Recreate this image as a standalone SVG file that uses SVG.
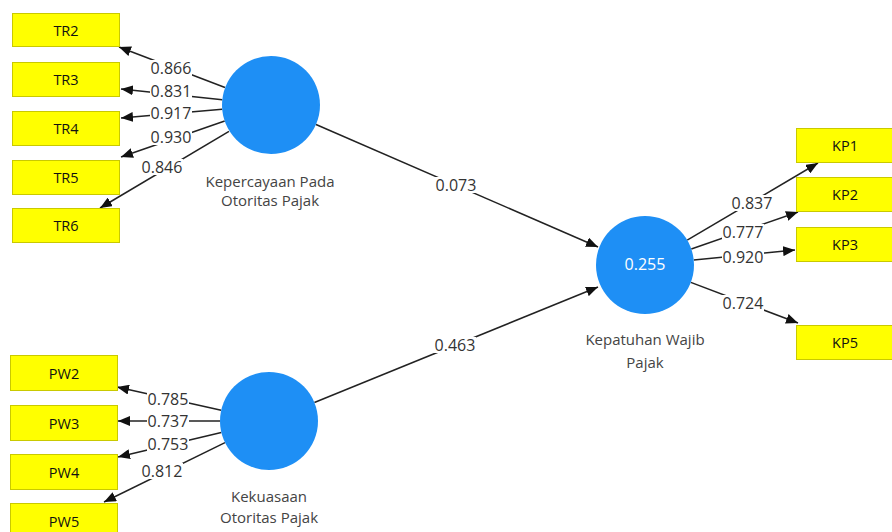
<svg xmlns="http://www.w3.org/2000/svg" width="892" height="532" viewBox="0 0 892 532">
<defs>
<marker id="ah" markerUnits="userSpaceOnUse" markerWidth="12" markerHeight="10" viewBox="0 0 12 10" refX="12" refY="5" orient="auto">
<path d="M0,0 L12,5 L0,10 Z" fill="#111"/>
</marker>
<rect id="bg" x="-21" y="-8" width="42" height="16" fill="#fff"/>
</defs>
<style>
.box{fill:#ffff00;stroke:#c9c900;stroke-width:1}
.bt{font-family:"Open Sans","Noto Sans",sans-serif;font-size:14.5px;fill:#111;text-anchor:middle;dominant-baseline:central}
.lv{fill:#1e8ff5}
.lt{font-family:"Open Sans","Noto Sans",sans-serif;font-size:15px;fill:#444;text-anchor:middle}
.ln{stroke:#222;stroke-width:1.5;fill:none;marker-end:url(#ah)}
.w{font-family:"Open Sans","Noto Sans",sans-serif;font-size:16px;fill:#333;text-anchor:middle;dominant-baseline:central}
.r2{font-family:"Open Sans","Noto Sans",sans-serif;font-size:16px;fill:#fff;text-anchor:middle;dominant-baseline:central}
</style>
<rect width="892" height="532" fill="#fff"/>
<g id="connectors">
<line class="ln" x1="225" y1="87.5" x2="119" y2="47"/>
<line class="ln" x1="222.3" y1="99.8" x2="121" y2="89"/>
<line class="ln" x1="222.2" y1="109.2" x2="121" y2="118"/>
<line class="ln" x1="224.7" y1="121" x2="121" y2="157"/>
<line class="ln" x1="229" y1="131.3" x2="100" y2="208"/>
<line class="ln" x1="221.2" y1="410.3" x2="117" y2="387"/>
<line class="ln" x1="220" y1="421" x2="118" y2="421"/>
<line class="ln" x1="221.3" y1="432.4" x2="118" y2="457"/>
<line class="ln" x1="225" y1="442.6" x2="104" y2="502"/>
<line class="ln" x1="687.2" y1="240.1" x2="818" y2="163"/>
<line class="ln" x1="691.3" y1="249" x2="798" y2="212"/>
<line class="ln" x1="693.8" y1="260.1" x2="795" y2="250"/>
<line class="ln" x1="690.8" y1="282.4" x2="798" y2="323"/>
<line class="ln" x1="316" y1="124.5" x2="598" y2="247"/>
<line class="ln" x1="314.4" y1="402.5" x2="598" y2="287"/>
<use href="#bg" x="171" y="68"/><text class="w" x="171" y="68">0.866</text>
<use href="#bg" x="171" y="91"/><text class="w" x="171" y="91">0.831</text>
<use href="#bg" x="171" y="113"/><text class="w" x="171" y="113">0.917</text>
<use href="#bg" x="171" y="137"/><text class="w" x="171" y="137">0.930</text>
<use href="#bg" x="162" y="167"/><text class="w" x="162" y="167">0.846</text>
<use href="#bg" x="168" y="399"/><text class="w" x="168" y="399">0.785</text>
<use href="#bg" x="168" y="421"/><text class="w" x="168" y="421">0.737</text>
<use href="#bg" x="168" y="444"/><text class="w" x="168" y="444">0.753</text>
<use href="#bg" x="162" y="471"/><text class="w" x="162" y="471">0.812</text>
<use href="#bg" x="752" y="203"/><text class="w" x="752" y="203">0.837</text>
<use href="#bg" x="743" y="232"/><text class="w" x="743" y="232">0.777</text>
<use href="#bg" x="743" y="257"/><text class="w" x="743" y="257">0.920</text>
<use href="#bg" x="743" y="303"/><text class="w" x="743" y="303">0.724</text>
<use href="#bg" x="456" y="185"/><text class="w" x="456" y="185">0.073</text>
<use href="#bg" x="455" y="345"/><text class="w" x="455" y="345">0.463</text>
</g>
<g id="TR2"><rect class="box" x="12.5" y="13.5" width="107" height="33"/><text class="bt" x="66" y="30">TR2</text></g>
<g id="TR3"><rect class="box" x="12.5" y="62.5" width="107" height="34"/><text class="bt" x="66" y="79.5">TR3</text></g>
<g id="TR4"><rect class="box" x="12.5" y="111.5" width="107" height="34"/><text class="bt" x="66" y="128.5">TR4</text></g>
<g id="TR5"><rect class="box" x="12.5" y="160.5" width="107" height="34"/><text class="bt" x="66" y="177.5">TR5</text></g>
<g id="TR6"><rect class="box" x="12.5" y="208.5" width="107" height="34"/><text class="bt" x="66" y="225.5">TR6</text></g>
<g id="PW2"><rect class="box" x="10.5" y="355.5" width="107" height="35"/><text class="bt" x="64" y="373">PW2</text></g>
<g id="PW3"><rect class="box" x="10.5" y="405.5" width="107" height="35"/><text class="bt" x="64" y="423">PW3</text></g>
<g id="PW4"><rect class="box" x="10.5" y="454.5" width="107" height="35"/><text class="bt" x="64" y="472">PW4</text></g>
<g id="PW5"><rect class="box" x="10.5" y="503.5" width="107" height="35"/><text class="bt" x="64" y="521">PW5</text></g>
<g id="KP1"><rect class="box" x="796.5" y="128.5" width="100" height="34"/><text class="bt" x="845" y="145.5">KP1</text></g>
<g id="KP2"><rect class="box" x="796.5" y="177.5" width="100" height="34"/><text class="bt" x="845" y="194.5">KP2</text></g>
<g id="KP3"><rect class="box" x="796.5" y="227.5" width="100" height="34"/><text class="bt" x="845" y="244.5">KP3</text></g>
<g id="KP5"><rect class="box" x="796.5" y="325.5" width="100" height="34"/><text class="bt" x="845" y="342.5">KP5</text></g>
<g id="Kepercayaan"><circle class="lv" cx="271" cy="105" r="49"/><text class="lt" x="270" y="187">Kepercayaan Pada</text><text class="lt" x="270" y="206">Otoritas Pajak</text></g>
<g id="Kekuasaan"><circle class="lv" cx="269" cy="421" r="49"/><text class="lt" x="269" y="502">Kekuasaan</text><text class="lt" x="269" y="523">Otoritas Pajak</text></g>
<g id="Kepatuhan"><circle class="lv" cx="645" cy="265" r="49"/><text class="r2" x="645" y="264">0.255</text><text class="lt" x="645" y="345">Kepatuhan Wajib</text><text class="lt" x="645" y="368">Pajak</text></g>
</svg>
